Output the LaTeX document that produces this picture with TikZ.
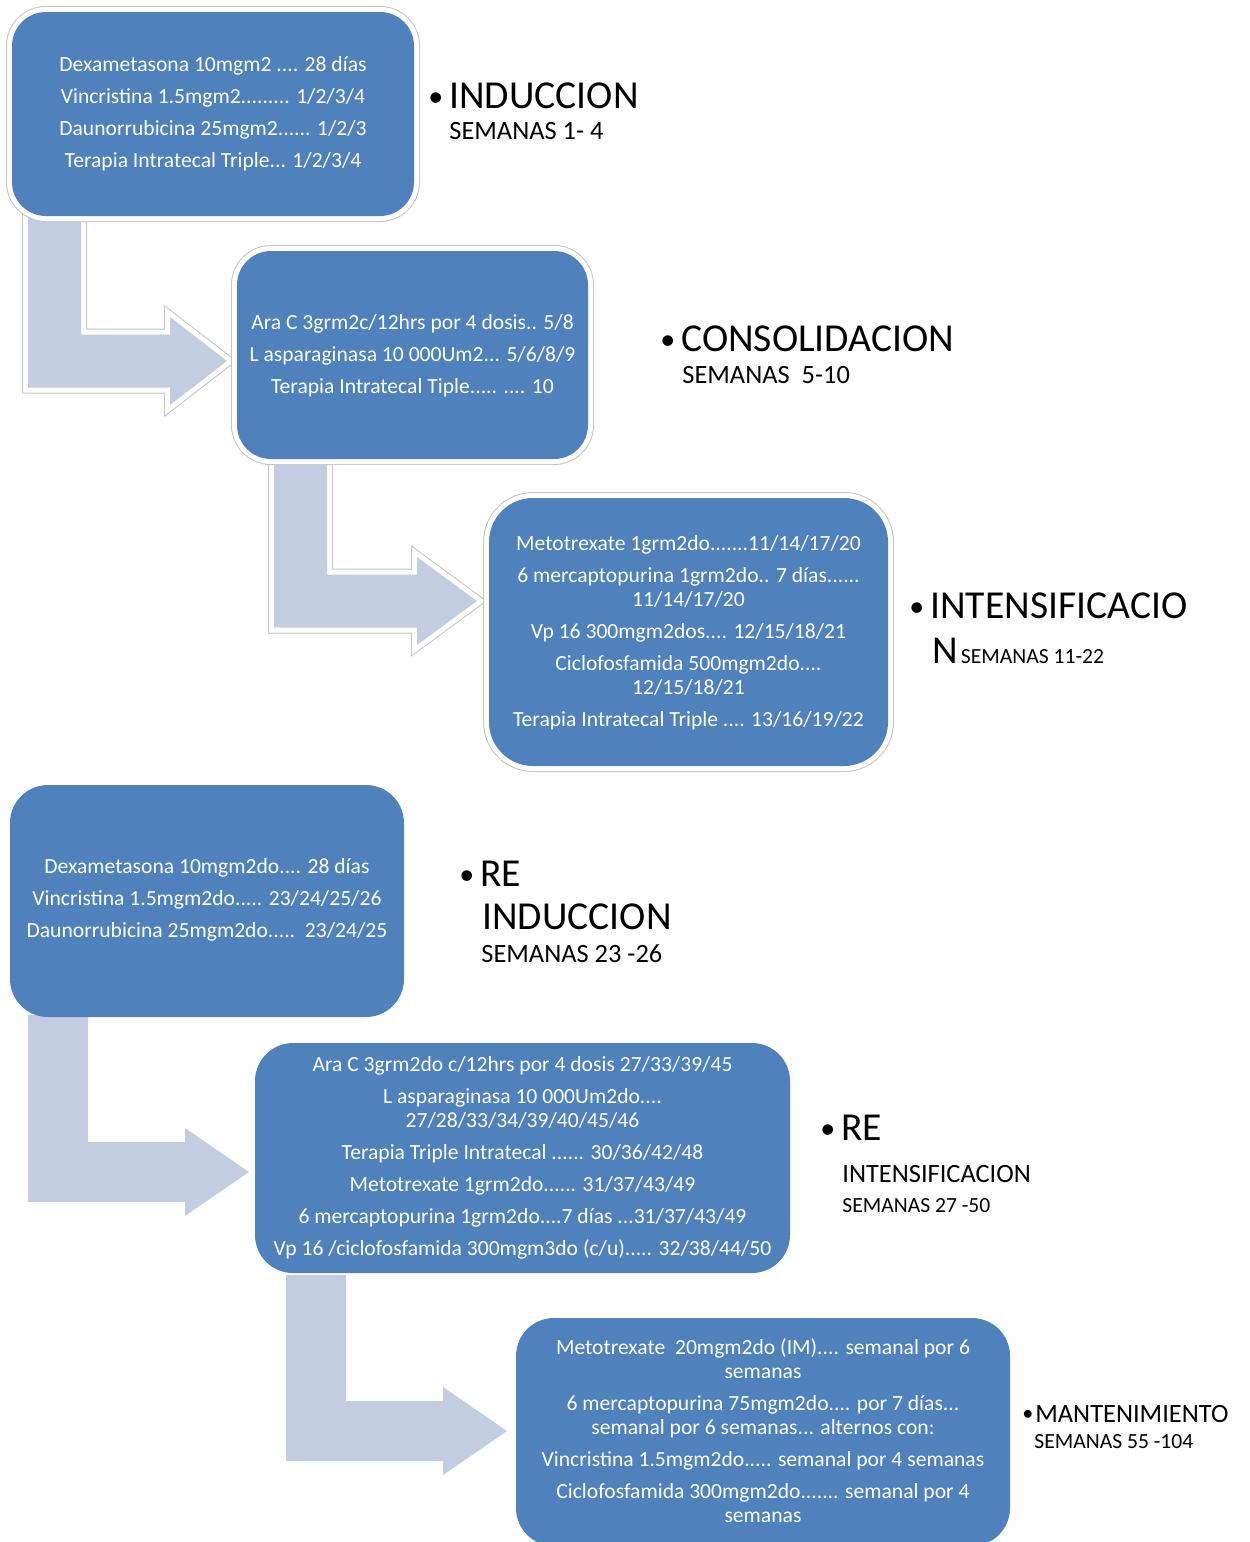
\documentclass[tikz,border=0pt]{standalone}
\usepackage{fontspec}
\setmainfont{Carlito}

\definecolor{boxblue}{HTML}{4F81BD}
\definecolor{arrowblue}{HTML}{C3CDE2}
\definecolor{framegray}{HTML}{C4C4C4}

% L-shaped block arrow: [style] left, top, tip x, tip y, bar width, head length
\newcommand\bentarrow[7][]{%
  \fill[arrowblue,line join=round,#1] (#2,#3) -- ({#2+#6},#3) -- ({#2+#6},{#5-#6/2})
    -- ({#4-#7},{#5-#6/2}) -- ({#4-#7},{#5-44}) -- (#4,#5) -- ({#4-#7},{#5+44})
    -- ({#4-#7},{#5+#6/2}) -- (#2,{#5+#6/2}) -- cycle;}
% bullet: size, gap
\newcommand\bul[2]{{\fontsize{#1}{#1}\selectfont\raisebox{1pt}{•}}\hspace{#2}}

\tikzset{
  framed/.style={preaction={draw=framegray,line width=6pt},preaction={draw=white,line width=5pt}},
  phasebox/.style={fill=boxblue,inner sep=0pt,rounded corners=#1},
  phasebox/.default=17pt,
  phasetext/.style={text=white,align=center,inner sep=0pt,font=\fontsize{10.8}{12}\selectfont},
  bigtitle/.style={anchor=base west,inner sep=0pt,font=\fontsize{19.8}{22}\selectfont},
  midtitle/.style={anchor=base west,inner sep=0pt,font=\fontsize{13.2}{15}\selectfont},
  weeks/.style={anchor=base west,inner sep=0pt,font=\fontsize{10.8}{12}\selectfont},
}

\begin{document}
\begin{tikzpicture}[x=0.5pt,y=-0.5pt]
\useasboundingbox (0,0) rectangle (1249,1542);

% arrows
\bentarrow[framed]{28}{205}{227}{361}{53}{57}
\bentarrow[framed]{274}{450}{477}{601}{53}{60}
\bentarrow{28}{1015}{249}{1172}{60}{64}
\bentarrow{286}{1275}{507}{1431}{60}{64}

% boxes
\node[phasebox,framed,minimum width=201pt,minimum height=102pt] (ind) at (213,114) {};
\node[phasebox,framed,minimum width=175.5pt,minimum height=104pt] (con) at (412.5,355) {};
\node[phasebox=22pt,framed,minimum width=199.5pt,minimum height=134pt] (int) at (688.5,632) {};
\node[phasebox=19pt,minimum width=197pt,minimum height=116pt] (rei) at (207,901) {};
\node[phasebox=19pt,minimum width=267.5pt,minimum height=115pt] (rin) at (522.5,1158) {};
\node[phasebox=19pt,minimum width=247pt,minimum height=114pt] (man) at (763,1432) {};

% box texts
\node[phasetext] (indtext) at (213,113.5) {Dexametasona 10mgm2 .... 28 días\\[4pt]
  Vincristina 1.5mgm2......... 1/2/3/4\\[4pt]
  Daunorrubicina 25mgm2...... 1/2/3\\[4pt]
  Terapia Intratecal Triple... 1/2/3/4};
\node[phasetext] (context) at (412.5,356) {Ara C 3grm2c/12hrs por 4 dosis.. 5/8\\[4pt]
  L asparaginasa 10 000Um2... 5/6/8/9\\[4pt]
  Terapia Intratecal Tiple..... .... 10};
\node[phasetext] (inttext) at (688.5,632.5) {Metotrexate 1grm2do.......11/14/17/20\\[4pt]
  6 mercaptopurina 1grm2do.. 7 días......\\ 11/14/17/20\\[4pt]
  Vp 16 300mgm2dos.... 12/15/18/21\\[4pt]
  Ciclofosfamida 500mgm2do....\\ 12/15/18/21\\[4pt]
  Terapia Intratecal Triple .... 13/16/19/22};
\node[phasetext] (reitext) at (207,900) {Dexametasona 10mgm2do.... 28 días\\[4pt]
  Vincristina 1.5mgm2do..... 23/24/25/26\\[4pt]
  Daunorrubicina 25mgm2do.....\ \ 23/24/25};
\node[phasetext] (rintext) at (522.5,1158) {Ara C 3grm2do c/12hrs por 4 dosis 27/33/39/45\\[4pt]
  L asparaginasa 10 000Um2do....\\ 27/28/33/34/39/40/45/46\\[4pt]
  Terapia Triple Intratecal ...... 30/36/42/48\\[4pt]
  Metotrexate 1grm2do...... 31/37/43/49\\[4pt]
  6 mercaptopurina 1grm2do....7 días ...31/37/43/49\\[4pt]
  Vp 16 /ciclofosfamida 300mgm3do (c/u)..... 32/38/44/50};
\node[phasetext] (mantext) at (763,1430.5) {Metotrexate\ \ 20mgm2do (IM).... semanal por 6\\ semanas\\[4pt]
  6 mercaptopurina 75mgm2do.... por 7 días...\\ semanal por 6 semanas... alternos con:\\[4pt]
  Vincristina 1.5mgm2do..... semanal por 4 semanas\\[4pt]
  Ciclofosfamida 300mgm2do....... semanal por 4\\ semanas};

% phase names
\node[bigtitle] (indname) at (428,108) {\bul{15}{3pt}INDUCCION};
\node[midtitle] (indweeks) at (449,139) {SEMANAS 1- 4};
\node[bigtitle] (conname) at (660,351) {\bul{15}{3pt}CONSOLIDACION};
\node[midtitle] (conweeks) at (682,383.5) {SEMANAS\ \ 5-10};
\node[bigtitle] (intname) at (909,618) {\bul{15}{3pt}INTENSIFICACIO};
\node[bigtitle] (intweeks) at (932,663) {N\hspace{1.5pt}{\fontsize{10.8}{12}\selectfont SEMANAS 11-22}};
\node[bigtitle] (reiname) at (459,886) {\bul{15}{3pt}RE};
\node[bigtitle] (reiname2) at (482,929) {INDUCCION};
\node[midtitle] (reiweeks) at (481,962.5) {SEMANAS 23 -26};
\node[bigtitle] (rinname) at (820,1140) {\bul{15}{3pt}RE};
\node[midtitle] (rinname2) at (842,1182.5) {INTENSIFICACION};
\node[weeks] (rinweeks) at (842,1212) {SEMANAS 27 -50};
\node[midtitle] (manname) at (1022,1422.5) {\bul{11}{1pt}MANTENIMIENTO};
\node[weeks] (manweeks) at (1034,1448) {SEMANAS 55 -104};
\end{tikzpicture}
\end{document}
